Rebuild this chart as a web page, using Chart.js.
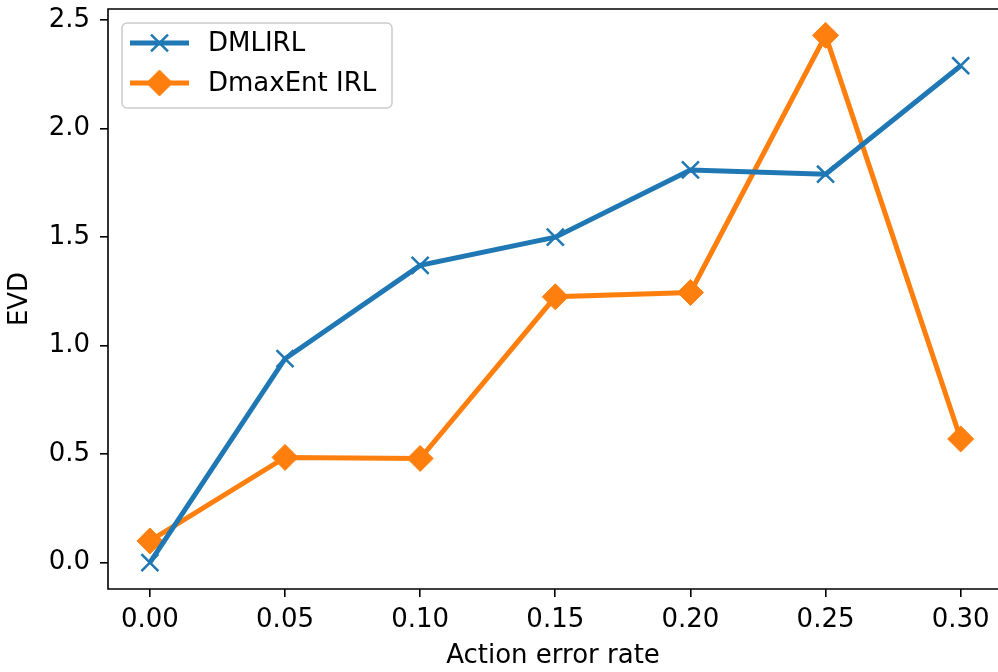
<!DOCTYPE html>
<html>
<head>
<meta charset="utf-8">
<script src="https://cdn.jsdelivr.net/npm/chart.js@4/dist/chart.umd.min.js"></script>
<style>
  html, body { margin: 0; padding: 0; background: #fff; }
  #wrap { width: 998px; height: 672px; position: relative; }
</style>
</head>
<body>
<div id="wrap"><canvas id="myChart" width="998" height="672"></canvas></div>
<script>
// error rates on x, EVD values per method
var errorRates = [0.00, 0.05, 0.10, 0.15, 0.20, 0.25, 0.30];
var dmlirl = [0.00, 0.94, 1.37, 1.50, 1.81, 1.79, 2.29];
var dmaxent = [0.10, 0.485, 0.48, 1.225, 1.245, 2.43, 0.57];
var xTicks = [0.00, 0.05, 0.10, 0.15, 0.20, 0.25, 0.30];
var yTicks = [0.0, 0.5, 1.0, 1.5, 2.0, 2.5];

var blue = '#1f77b4';
var orange = '#ff7f0e';
var font = 'DejaVu Sans';
var fs = 26;

function pts(ys) {
  return errorRates.map(function(x, i) { return { x: x, y: ys[i] }; });
}

// spines: left, top, bottom (the right one falls off the picture)
var frame = {
  id: 'frame',
  afterDraw: function(chart) {
    var a = chart.chartArea, c = chart.ctx;
    c.save();
    c.strokeStyle = '#000';
    c.lineWidth = 1.6;
    c.beginPath();
    c.moveTo(a.right + 2, a.top);
    c.lineTo(a.left, a.top);
    c.lineTo(a.left, a.bottom);
    c.lineTo(a.right + 2, a.bottom);
    c.stroke();
    c.restore();
  }
};

// matplotlib-style legend in the upper left
var boxLegend = {
  id: 'boxLegend',
  afterDraw: function(chart) {
    var c = chart.ctx;
    c.save();
    var x = 122, y = 23, w = 270, h = 85, r = 5;
    c.beginPath();
    c.moveTo(x + r, y);
    c.arcTo(x + w, y, x + w, y + h, r);
    c.arcTo(x + w, y + h, x, y + h, r);
    c.arcTo(x, y + h, x, y, r);
    c.arcTo(x, y, x + w, y, r);
    c.closePath();
    c.fillStyle = 'rgba(255,255,255,0.8)';
    c.fill();
    c.strokeStyle = '#cccccc';
    c.lineWidth = 1.5;
    c.stroke();

    var rows = [43, 83];
    chart.data.datasets.forEach(function(ds, i) {
      var cy = rows[i];
      c.strokeStyle = ds.borderColor;
      c.lineWidth = ds.borderWidth;
      c.beginPath();
      c.moveTo(130, cy);
      c.lineTo(189, cy);
      c.stroke();
      c.fillStyle = ds.pointBackgroundColor;
      c.strokeStyle = ds.pointBorderColor;
      c.lineWidth = ds.pointBorderWidth;
      Chart.helpers.drawPoint(c, { pointStyle: ds.pointStyle, radius: ds.pointRadius, rotation: 0, borderWidth: ds.pointBorderWidth }, 159.5, cy);
      c.fillStyle = '#000';
      c.font = fs + 'px "' + font + '"';
      c.textBaseline = 'middle';
      c.textAlign = 'left';
      c.fillText(ds.label, 208, cy + 1);
    });
    c.restore();
  }
};

var ctx = document.getElementById('myChart').getContext('2d');

var params = {
  type: 'line',
  data: {
    datasets: [
      {
        label: 'DMLIRL',
        data: pts(dmlirl),
        borderColor: blue,
        backgroundColor: blue,
        borderWidth: 5,
        pointStyle: 'crossRot',
        pointRadius: 12,
        pointBorderWidth: 2.5,
        pointBorderColor: blue,
        pointBackgroundColor: blue,
        tension: 0,
        fill: false,
        clip: false
      },
      {
        label: 'DmaxEnt IRL',
        data: pts(dmaxent),
        borderColor: orange,
        backgroundColor: orange,
        borderWidth: 5,
        pointStyle: 'rectRot',
        pointRadius: 13,
        pointBorderWidth: 1,
        pointBorderColor: orange,
        pointBackgroundColor: orange,
        tension: 0,
        fill: false,
        clip: false
      }
    ]
  },
  options: {
    responsive: false,
    animation: false,
    events: [],
    layout: { autoPadding: false, padding: { top: 9, right: 0, left: 0, bottom: 0 } },
    plugins: { legend: { display: false }, tooltip: { enabled: false } },
    scales: {
      x: {
        type: 'linear',
        min: -0.0155,
        max: 0.3138,
        afterBuildTicks: function(s) { s.ticks = xTicks.map(function(v) { return { value: v }; }); },
        afterFit: function(s) { s.height = 83; s.paddingLeft = 0; s.paddingRight = 0; },
        ticks: {
          color: '#000',
          font: { family: font, size: fs },
          padding: 8,
          maxRotation: 0,
          callback: function(v) { return v.toFixed(2); }
        },
        grid: { drawOnChartArea: false, drawTicks: true, tickLength: 8, color: '#000', lineWidth: 1.6 },
        border: { display: false },
        title: {
          display: true,
          text: 'Action error rate',
          color: '#000',
          font: { family: font, size: fs },
          padding: { top: 1, bottom: 0 }
        }
      },
      y: {
        type: 'linear',
        min: -0.1215,
        max: 2.5515,
        afterBuildTicks: function(s) { s.ticks = yTicks.map(function(v) { return { value: v }; }); },
        afterFit: function(s) { s.width = 108; s.paddingTop = 0; s.paddingBottom = 0; },
        ticks: {
          color: '#000',
          font: { family: font, size: fs },
          padding: 10,
          callback: function(v) { return v.toFixed(1); }
        },
        grid: { drawOnChartArea: false, drawTicks: true, tickLength: 8, color: '#000', lineWidth: 1.6 },
        border: { display: false },
        title: {
          display: true,
          text: 'EVD',
          color: '#000',
          font: { family: font, size: fs },
          padding: { top: 5, bottom: 0 }
        }
      }
    }
  },
  plugins: [frame, boxLegend]
};

var chart = new Chart(ctx, params);
</script>
</body>
</html>
